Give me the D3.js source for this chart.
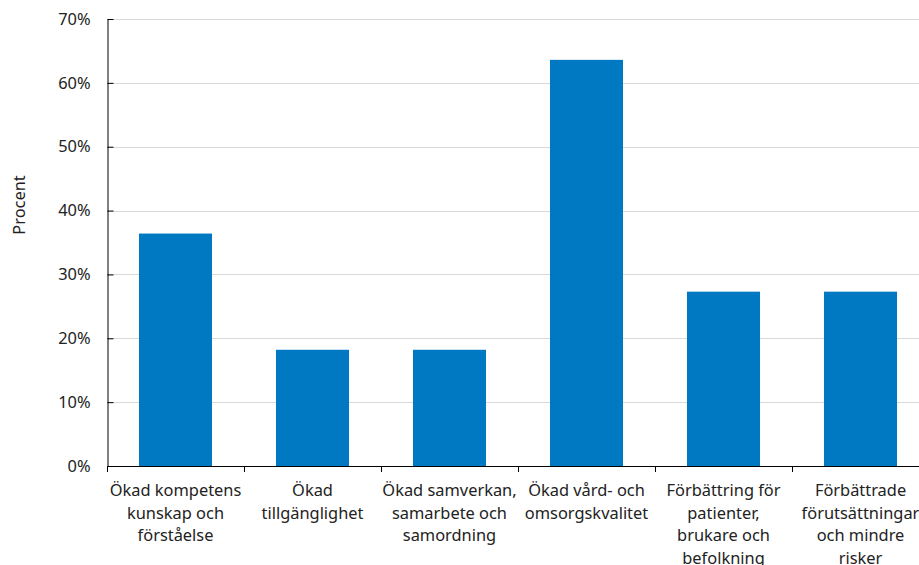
<!DOCTYPE html>
<html><head><meta charset="utf-8">
<script src="https://cdn.jsdelivr.net/npm/d3@7"></script>
<style>
body{margin:0;background:#fff;overflow:hidden}
text{font-family:"Noto Sans",sans-serif;fill:#222}
</style></head><body>
<svg id="c" width="919" height="565"></svg>
<script>
const categories = [
  ["Ökad kompetens","kunskap och","förståelse"],
  ["Ökad","tillgänglighet"],
  ["Ökad samverkan,","samarbete och","samordning"],
  ["Ökad vård- och","omsorgskvalitet"],
  ["Förbättring för","patienter,","brukare och","befolkning"],
  ["Förbättrade","förutsättningar","och mindre","risker"]
];
const values = [36.4, 18.2, 18.2, 63.6, 27.3, 27.3];
const yTicks = [0,10,20,30,40,50,60,70];
const yLabel = "Procent";

const svg = d3.select("#c");
const m = {l:107, t:19, b:466, r:929};
const x = d3.scaleBand().domain(d3.range(categories.length)).range([m.l, m.r]).paddingInner(0.467).paddingOuter(0.2335);
const y = d3.scaleLinear().domain([0,70]).range([m.b, m.t]);

// gridlines
svg.append("g").selectAll("line").data(yTicks.filter(d=>d>0)).join("line")
  .attr("x1", m.l).attr("x2", 919).attr("y1", d=>Math.round(y(d))+0.5).attr("y2", d=>Math.round(y(d))+0.5)
  .attr("stroke","#d9d9d9").attr("stroke-width",1);

// bars
svg.append("g").selectAll("rect").data(values).join("rect")
  .attr("x",(d,i)=>x(i)).attr("width",x.bandwidth())
  .attr("y",d=>y(d)).attr("height",d=>y(0)-y(d))
  .attr("fill","#0079c2");

// y axis
const ya = svg.append("g").attr("transform",`translate(${m.l+0.5},0)`)
  .call(d3.axisLeft(y).tickValues(yTicks).tickFormat(d=>d+"%").tickSizeInner(-6).tickSizeOuter(0).tickPadding(17));
ya.select(".domain").attr("stroke","#000");
ya.selectAll(".tick line").attr("stroke","#000");
ya.selectAll("text").style("font-size","16.4px").attr("fill","#222").style("font-family","Noto Sans");

// x axis
const boundaries = d3.range(categories.length+1).map(i=>m.l + i*x.step());
const xg = svg.append("g");
xg.append("line").attr("x1",m.l).attr("x2",919).attr("y1",m.b+0.5).attr("y2",m.b+0.5).attr("stroke","#000");
xg.selectAll("line.tk").data(boundaries).join("line").attr("class","tk")
  .attr("x1",d=>Math.round(d)+0.5).attr("x2",d=>Math.round(d)+0.5).attr("y1",m.b).attr("y2",m.b+6).attr("stroke","#000");

const lab = svg.append("g").selectAll("text").data(categories).join("text")
  .attr("text-anchor","middle").style("font-size","16.4px")
  .attr("transform",(d,i)=>`translate(${x(i)+x.bandwidth()/2},0)`);
lab.selectAll("tspan").data(d=>d).join("tspan")
  .attr("x",0).attr("y",(d,j)=>496+j*22.6).text(d=>d);

svg.append("text").attr("transform","translate(24.5,205) rotate(-90)")
  .attr("text-anchor","middle").style("font-size","16.4px").text(yLabel);
</script></body></html>
